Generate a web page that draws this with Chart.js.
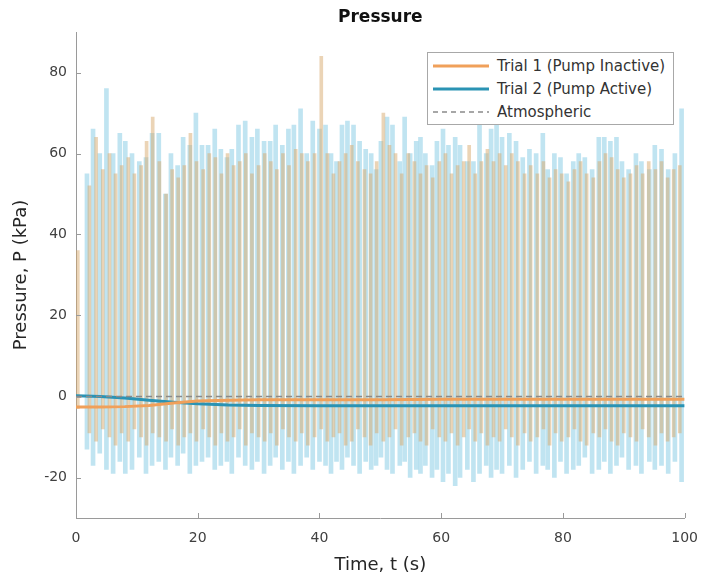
<!DOCTYPE html>
<html>
<head>
<meta charset="utf-8">
<title>Pressure</title>
<script src="https://cdn.jsdelivr.net/npm/chart.js@4.4.0/dist/chart.umd.min.js"></script>
<style>
  body { margin: 0; background: #fff; }
  #wrap { position: relative; width: 710px; height: 579px; }
  #legend {
    position: absolute; left: 427px; top: 52px; width: 247px; height: 73px;
    box-sizing: border-box; border: 1px solid #a8a8a8; background: #fff;
    font-family: "DejaVu Sans", sans-serif; font-size: 15px; color: #333;
  }
  .row { position: absolute; left: 0; height: 22px; display: flex; align-items: center; white-space: nowrap; }
  .row svg { margin-left: 5px; margin-right: 8px; }
</style>
</head>
<body>
<div id="wrap">
  <canvas id="chart" width="710" height="579"></canvas>
  <div id="legend"></div>
</div>
<script>
// ---- data ----
const titleText = 'Pressure';
const xTicks = [0, 20, 40, 60, 80, 100];
const yTicks = [-20, 0, 20, 40, 60, 80];

// Trial 1 (pump inactive): spike times (s), peak and trough pressures (kPa)
const trial1Time = [0.3,2.2,3.3,4.4,5.5,6.5,7.5,8.6,9.6,10.7, 11.6,12.6,13.7,14.8,15.8,16.8,17.8,18.8,19.8,20.9,
  21.9,22.9,23.9,24.9,25.9,26.9,27.9,28.9,30.0,31.0, 32.0,33.0,34.0,35.0,36.1,37.1,38.1,39.2,40.3,41.3,
  42.3,43.3,44.3,45.3,46.3,47.4,48.4,49.4,50.5,51.5, 52.5,53.5,54.6,55.6,56.6,57.6,58.6,59.7,60.7,61.7,
  62.7,63.7,64.6,65.6,66.6,67.6,68.6,69.6,70.6,71.6, 72.6,73.7,74.7,75.8,76.8,77.8,78.8,79.8,80.9,81.9,
  82.9,83.9,85.0,86.0,87.0,88.0,89.0,90.0,91.1,92.1, 93.1,94.1,95.2,96.2,97.2,98.2,99.2];
const trial1Peak = [36,52,64,56,60,55,57,59,55,57, 63,69,58,50,56,54,57,65,58,56,
  60,59,55,60,57,58,60,55,57,60, 58,56,60,57,61,60,58,60,84,60,
  55,58,60,62,58,56,55,58,70,62, 60,55,60,58,55,57,54,58,60,55,
  57,58,62,55,58,61,58,60,57,60, 58,55,57,55,58,54,56,55,53,56,
  58,55,54,58,60,59,56,54,55,57, 55,58,56,58,54,56,57];
const trial1Trough = [-3,-9,-11,-8,-10,-12,-9,-11,-8,-10, -12,-9,-10,-11,-8,-12,-10,-9,-11,-8,
  -10,-12,-9,-11,-10,-8,-12,-9,-10,-11, -9,-12,-8,-10,-11,-9,-12,-10,-8,-11,
  -10,-9,-12,-11,-8,-10,-12,-9,-11,-10, -8,-12,-10,-9,-11,-12,-8,-10,-11,-9,
  -12,-10,-8,-11,-9,-12,-10,-11,-8,-10, -12,-9,-11,-10,-8,-12,-9,-11,-10,-8,
  -11,-12,-9,-10,-8,-11,-12,-9,-10,-11, -8,-10,-12,-9,-11,-10,-9];

// Trial 2 (pump active)
const trial2Time = [1.8,2.8,3.9,5.0,6.1,7.2,8.1,9.2,10.4,11.5, 12.5,13.6,14.7,15.6,16.7,17.6,18.7,19.7,20.7,21.7,
  22.8,23.8,24.8,25.6,26.7,27.8,28.9,29.8,30.9,31.9, 32.8,33.9,34.9,35.8,36.9,37.9,38.9,40.0,41.0,41.9,
  42.8,43.7,44.6,45.6,46.6,47.6,48.5,49.3,50.1,51.1, 52.0,53.2,54.0,54.9,55.9,56.6,57.4,58.5,59.3,60.3,
  61.2,62.3,63.1,64.3,65.3,66.3,67.4,68.2,69.1,70.0, 71.2,72.3,73.4,74.5,75.6,76.7,77.5,78.6,79.6,80.6,
  81.7,82.6,83.6,84.8,85.9,86.8,87.8,88.8,89.7,90.8, 92.0,92.9,94.2,95.1,96.2,97.3,98.4,99.5];
const trial2Peak = [55,66,60,76,60,65,63,60,58,59, 65,65,50,60,57,64,62,70,62,62,
  66,61,59,61,67,68,64,66,63,63, 67,62,66,67,71,60,68,66,67,60,
  58,67,68,67,63,61,60,56,63,69, 67,58,69,60,63,64,60,57,63,66,
  62,64,62,58,58,67,60,66,69,64, 65,63,59,61,60,65,56,60,59,55,
  58,60,59,56,64,64,63,64,58,56, 60,58,56,62,61,56,60,71];
const trial2Trough = [-13,-17,-14,-18,-19,-16,-19,-18,-15,-19, -17,-16,-18,-15,-17,-14,-19,-17,-16,-15,
  -18,-17,-16,-19,-15,-17,-18,-16,-19,-17, -15,-18,-16,-19,-17,-15,-18,-16,-17,-19,
  -16,-18,-15,-17,-19,-16,-18,-17,-15,-18, -19,-17,-16,-20,-18,-19,-17,-20,-18,-21,
  -19,-22,-20,-18,-21,-19,-17,-20,-18,-19, -17,-20,-18,-16,-19,-17,-18,-20,-16,-19,
  -18,-17,-15,-19,-18,-16,-19,-17,-15,-18, -17,-19,-16,-18,-17,-19,-16,-21];

// smoothed (mean) pressure of both trials
const meanTime   = [0, 4, 8, 12, 16, 20, 25, 30, 40, 50, 60, 70, 80, 90, 100];
const trial1Mean = [-2.6,-2.6,-2.5,-2.2,-1.6,-1.1,-0.9,-0.8,-0.8,-0.8,-0.7,-0.7,-0.7,-0.7,-0.7];
const trial2Mean = [0.2,0,-0.4,-0.9,-1.4,-1.8,-2.1,-2.2,-2.3,-2.3,-2.3,-2.3,-2.3,-2.3,-2.3];

const atmTime  = [0, 100];
const atmValue = [0, 0];

// ---- chart ----
const fontFamily = '"DejaVu Sans", sans-serif';
Chart.defaults.font.family = fontFamily;

const pts = (xs, ys) => xs.map((x, i) => ({ x: x, y: ys[i] }));
const spikes = (xs, lo, hi) => xs.map((x, i) => ({ x: x, y: [lo[i], hi[i]] }));

const plotTitle = {
  id: 'plotTitle',
  afterDraw(chart) {
    const { ctx, chartArea } = chart;
    ctx.save();
    ctx.font = 'bold 17px ' + fontFamily;
    ctx.fillStyle = '#111';
    ctx.textAlign = 'center';
    ctx.textBaseline = 'middle';
    ctx.fillText(titleText, (chartArea.left + chartArea.right) / 2, 18);
    ctx.restore();
  }
};

// MATLAB style ticks pointing into the axes
const inwardTicks = {
  id: 'inwardTicks',
  afterDatasetsDraw(chart) {
    const { ctx, chartArea, scales } = chart;
    ctx.save();
    ctx.strokeStyle = '#9a9a9a';
    ctx.lineWidth = 1;
    scales.x.ticks.forEach(t => {
      const px = Math.round(scales.x.getPixelForValue(t.value)) + 0.5;
      ctx.beginPath(); ctx.moveTo(px, chartArea.bottom); ctx.lineTo(px, chartArea.bottom - 5); ctx.stroke();
    });
    scales.y.ticks.forEach(t => {
      const py = Math.round(scales.y.getPixelForValue(t.value)) + 0.5;
      ctx.beginPath(); ctx.moveTo(chartArea.left, py); ctx.lineTo(chartArea.left + 5, py); ctx.stroke();
    });
    ctx.restore();
  }
};

const chart = new Chart(document.getElementById('chart'), {
  type: 'line',
  data: {
    datasets: [
      { label: 'Atmospheric', data: pts(atmTime, atmValue), borderColor: '#8a8a8a',
        borderWidth: 1.5, borderDash: [6, 4], pointRadius: 0 },
      { label: 'Trial 1 (Pump Inactive)', data: pts(meanTime, trial1Mean), borderColor: '#f0a05a',
        borderWidth: 3, pointRadius: 0 },
      { label: 'Trial 2 (Pump Active)', data: pts(meanTime, trial2Mean), borderColor: '#2a93b4',
        borderWidth: 3, pointRadius: 0 },
      { type: 'bar', label: 'Trial 1 raw', data: spikes(trial1Time, trial1Trough, trial1Peak),
        backgroundColor: 'rgba(215,170,110,0.5)', borderWidth: 0, barThickness: 3, grouped: false },
      { type: 'bar', label: 'Trial 2 raw', data: spikes(trial2Time, trial2Trough, trial2Peak),
        backgroundColor: 'rgba(150,210,232,0.6)', borderWidth: 0, barThickness: 4, grouped: false }
    ]
  },
  options: {
    responsive: false,
    animation: false,
    layout: { padding: { left: 0, right: 20, top: 32, bottom: 0 } },
    plugins: { legend: { display: false }, tooltip: { enabled: false }, title: { display: false } },
    scales: {
      x: {
        type: 'linear', min: 0, max: 100, offset: false,
        grid: { display: false, drawTicks: false },
        border: { color: '#9a9a9a', width: 1 },
        afterBuildTicks: s => { s.ticks = xTicks.map(v => ({ value: v })); },
        ticks: { color: '#404040', font: { size: 14 }, padding: 12, maxRotation: 0 },
        title: { display: true, text: 'Time, t (s)', color: '#262626', font: { size: 18 }, padding: { top: 0, bottom: 3 } },
        afterFit: s => { s.height = 61; }
      },
      y: {
        type: 'linear', min: -30, max: 90,
        grid: { display: false, drawTicks: false },
        border: { color: '#9a9a9a', width: 1 },
        afterBuildTicks: s => { s.ticks = yTicks.map(v => ({ value: v })); },
        ticks: { color: '#404040', font: { size: 14 }, padding: 9 },
        title: { display: true, text: 'Pressure, P (kPa)', color: '#262626', font: { size: 18 }, padding: { top: 11, bottom: 0 } },
        afterFit: s => { s.width = 76; }
      }
    }
  },
  plugins: [plotTitle, inwardTicks]
});

// legend inside the axes, top right
const legendEl = document.getElementById('legend');
[1, 2, 0].forEach((idx, row) => {
  const ds = chart.data.datasets[idx];
  const div = document.createElement('div');
  div.className = 'row';
  div.style.top = (2 + row * 23) + 'px';
  const dash = ds.borderDash ? ' stroke-dasharray="5 4"' : '';
  div.innerHTML = '<svg width="56" height="6"><line x1="0" y1="3" x2="56" y2="3" stroke="' + ds.borderColor +
    '" stroke-width="' + ds.borderWidth + '"' + dash + '/></svg><span></span>';
  div.querySelector('span').textContent = ds.label;
  legendEl.appendChild(div);
});
</script>
</body>
</html>
